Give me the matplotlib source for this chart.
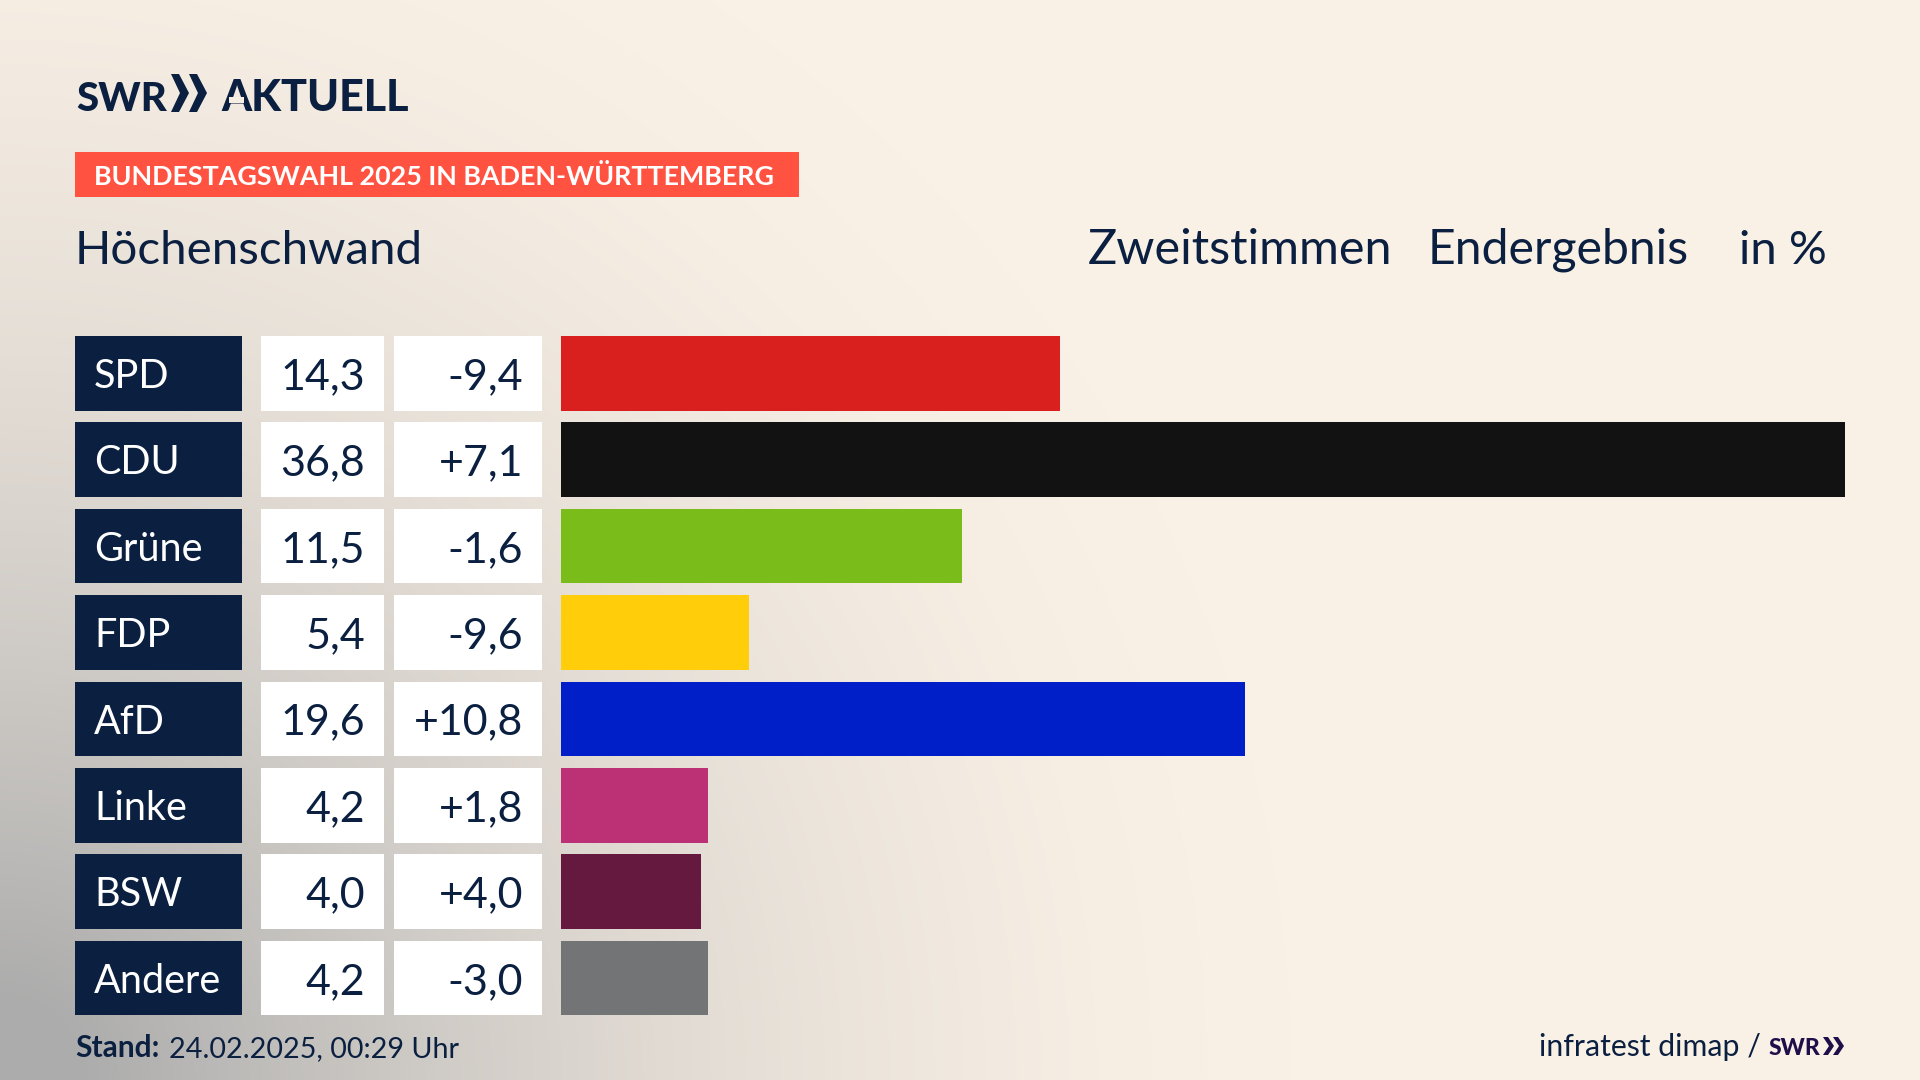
import numpy as np
import matplotlib
matplotlib.use('Agg')
import matplotlib.pyplot as plt
from matplotlib.colors import LinearSegmentedColormap
from matplotlib.patches import Rectangle, Polygon

parties = ['SPD', 'CDU', 'Grüne', 'FDP', 'AfD', 'Linke', 'BSW', 'Andere']
shares = [14.3, 36.8, 11.5, 5.4, 19.6, 4.2, 4.0, 4.2]
changes = ['-9,4', '+7,1', '-1,6', '-9,6', '+10,8', '+1,8', '+4,0', '-3,0']
bar_colors = ['#D9201F', '#121212', '#7ABD1A', '#FFCD0A', '#001FC8', '#BC3175', '#66193F', '#737475']

NAVY = '#0B2040'
SANS = 'Lato'

fig = plt.figure(figsize=(19.2, 10.8), dpi=100)

# background gradient, everything else sits on top in pixel coords
bg = fig.add_axes([0, 0, 1, 1])
yy, xx = np.mgrid[0:1080, 0:1920]
d = np.sqrt((xx / 1350.0) ** 2 + ((1080 - yy) / 1350.0) ** 2)
t = np.clip(1 - d, 0, 1) ** 1.8
cmap = LinearSegmentedColormap.from_list('bg', ['#FAF1E6', '#ACACAC'])
bg.imshow(t, cmap=cmap, vmin=0, vmax=0.9, extent=[0, 1920, 1080, 0], aspect='auto')
bg.set_xlim(0, 1920)
bg.set_ylim(1080, 0)
bg.axis('off')

row_top = 336.0
row_pitch = 86.4
row_h = 74.5


def label(x, y, s, size, color=NAVY, ha='left', weight='normal'):
    bg.text(x, y, s, fontsize=size, color=color, ha=ha, va='baseline', family=SANS, weight=weight)


# logo
label(76, 111, 'SWR', 29, weight=900)
label(221, 111, 'AKTUELL', 31, weight=900)
bg.add_patch(Rectangle((229, 97), 15, 6, color='#F7EEE3', lw=0, zorder=5))
for dx in (0, 18):
    bg.add_patch(Polygon([(171 + dx, 74), (179 + dx, 74), (189 + dx, 93), (179 + dx, 112),
                          (171 + dx, 112), (180 + dx, 93)], color=NAVY, lw=0))

# red tag
bg.add_patch(Rectangle((75, 152), 724, 45, color='#FF5240', lw=0))
label(94, 185, 'BUNDESTAGSWAHL 2025 IN BADEN-WÜRTTEMBERG', 19.4, color='white', weight='bold')

# header line
label(75, 264, 'Höchenschwand', 34.2)
label(1088, 264, 'Zweitstimmen', 35)
label(1428, 264, 'Endergebnis', 34.7)
label(1739, 264, 'in %', 34)

# table cells
for i, (party, share, change) in enumerate(zip(parties, shares, changes)):
    top = row_top + i * row_pitch
    bg.add_patch(Rectangle((75, top), 167, row_h, color=NAVY, lw=0))
    bg.add_patch(Rectangle((261, top), 123, row_h, color='white', lw=0))
    bg.add_patch(Rectangle((394, top), 148, row_h, color='white', lw=0))
    label(94, top + 52, party, 28.5, color='white')
    label(365, top + 53, f'{share:.1f}'.replace('.', ','), 31, ha='right')
    label(523, top + 53, change, 31, ha='right')

# bars get their own axes so the widths come from the values
bar_ax = fig.add_axes([561 / 1920, 1 - (row_top + 7 * row_pitch + row_h) / 1080,
                       (1845 - 561) / 1920, (7 * row_pitch + row_h) / 1080])
bar_ax.patch.set_alpha(0)
bar_ax.barh(range(len(parties)), shares, height=row_h / row_pitch, color=bar_colors)
bar_ax.set_xlim(0, max(shares))
half = row_h / row_pitch / 2
bar_ax.set_ylim(7 + half, -half)
bar_ax.axis('off')

# footer
label(75, 1057, 'Stand:', 21.5, weight='bold')
label(169, 1057, '24.02.2025, 00:29 Uhr', 20.7)
label(1539, 1056, 'infratest dimap /', 21.8)
label(1769, 1055, 'SWR', 16.5, color='#1E0F4B', weight=900)
for dx in (0, 10):
    bg.add_patch(Polygon([(1823 + dx, 1037), (1828 + dx, 1037), (1834 + dx, 1046), (1828 + dx, 1055),
                          (1823 + dx, 1055), (1829 + dx, 1046)], color='#1E0F4B', lw=0))

fig.savefig('out.png', dpi=100)
